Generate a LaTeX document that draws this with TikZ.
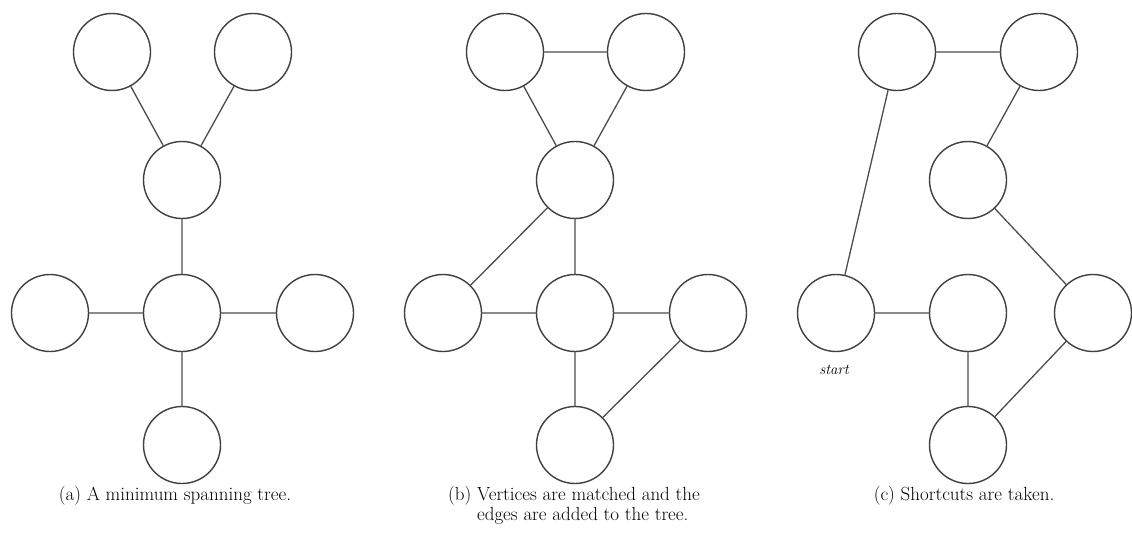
\documentclass[tikz,border=0pt]{standalone}
\usepackage{tikz}
\begin{document}
\begin{tikzpicture}[x=1pt, y=-1pt, vertex/.style={circle, draw=black!75, line width=1.4pt, minimum size=77pt, inner sep=0pt}, tedge/.style={draw=black!70, line width=1.3pt}, caption/.style={anchor=base, font=\fontsize{19pt}{23pt}\selectfont}]
\useasboundingbox (0,0) rectangle (1132,540);
% (a) spanning tree
\node[vertex] (a1) at (112,52) {};
\node[vertex] (a2) at (253,52) {};
\node[vertex] (a3) at (182,180) {};
\node[vertex] (a4) at (50,313) {};
\node[vertex] (a5) at (182,313) {};
\node[vertex] (a6) at (315,313) {};
\node[vertex] (a7) at (182,445) {};
\draw[tedge] (a1) -- (a3) (a2) -- (a3) (a3) -- (a5) (a4) -- (a5) (a5) -- (a6) (a5) -- (a7);
\node[caption] (capa) at (175,500) {(a) A minimum spanning tree.};
% (b) tree plus matching
\node[vertex] (b1) at (505,52) {};
\node[vertex] (b2) at (646,52) {};
\node[vertex] (b3) at (575,180) {};
\node[vertex] (b4) at (443,313) {};
\node[vertex] (b5) at (575,313) {};
\node[vertex] (b6) at (708,313) {};
\node[vertex] (b7) at (575,445) {};
\draw[tedge] (b1) -- (b3) (b2) -- (b3) (b3) -- (b5) (b4) -- (b5) (b5) -- (b6) (b5) -- (b7);
\draw[tedge] (b1) -- (b2) (b3) -- (b4) (b6) -- (b7);
\node[caption] (capb) at (574,500) {\begin{tabular}[t]{@{}l@{ }l@{}}(b) & Vertices are matched and the\\[-3pt] & edges are added to the tree.\end{tabular}};
% (c) tour with shortcuts
\node[vertex] (c1) at (897,52) {};
\node[vertex] (c2) at (1039,52) {};
\node[vertex] (c3) at (968,180) {};
\node[vertex] (c4) at (836,313) {};
\node[vertex] (c5) at (968,313) {};
\node[vertex] (c6) at (1093,313) {};
\node[vertex] (c7) at (968,445) {};
\draw[tedge] (c4) -- (c1) -- (c2) -- (c3) -- (c6) -- (c7) -- (c5) -- (c4);
\node[font=\fontsize{15pt}{17pt}\selectfont\itshape] (start) at (834,370) {start};
\node[caption] (capc) at (964,500) {(c) Shortcuts are taken.};
\end{tikzpicture}
\end{document}
